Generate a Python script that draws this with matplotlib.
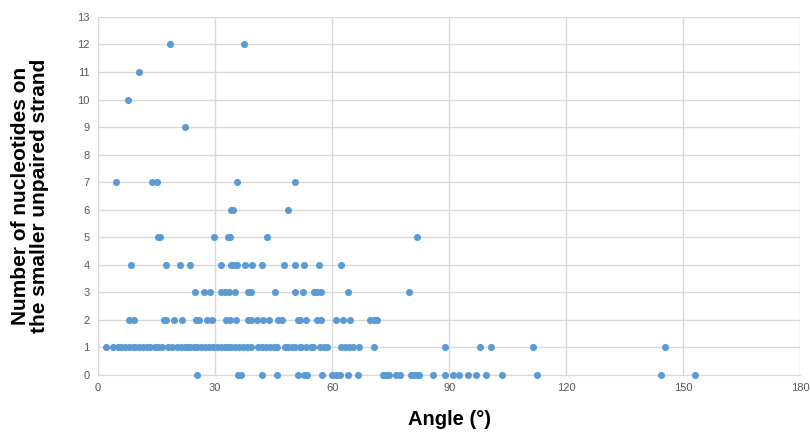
import matplotlib
matplotlib.use("Agg")
import matplotlib.pyplot as plt

# angle values (degrees) grouped by number of nucleotides on the smaller unpaired strand
angles_n0 = [25.4, 35.9, 36.7, 42.0, 46.0, 51.2, 52.9, 53.5, 57.3, 60.0, 60.9, 61.9,
             64.0, 66.7, 73.0, 73.8, 74.7, 76.4, 77.4, 80.2, 81.0, 81.8, 82.4, 85.8,
             88.9, 90.9, 92.6, 94.9, 96.9, 99.4, 103.5, 112.6, 144.4, 152.9]
angles_n1 = [2.1, 3.9, 5.0, 6.0, 7.0, 8.0, 9.0, 9.5, 10.6, 11.5, 12.5, 13.3, 14.5,
             15.3, 16.3, 18.0, 19.0, 20.3, 21.3, 22.3, 23.1, 23.5, 24.5, 25.5, 26.5,
             27.5, 28.5, 29.5, 30.5, 31.5, 32.5, 33.2, 34.2, 35.2, 36.2, 37.2, 38.3,
             39.3, 40.9, 42.0, 43.0, 44.0, 45.0, 46.0, 47.8, 48.6, 49.6, 50.6, 51.7,
             52.1, 53.4, 54.6, 55.0, 56.8, 57.8, 58.8, 62.3, 63.3, 64.3, 65.3, 67.0,
             70.7, 88.9, 98.0, 100.8, 111.6, 145.2]
angles_n2 = [7.9, 9.3, 16.9, 17.5, 19.4, 21.4, 25.0, 25.8, 28.0, 29.2, 32.8, 33.9,
             35.3, 38.4, 39.1, 40.8, 42.3, 43.7, 46.2, 47.2, 51.3, 51.9, 53.4, 56.1,
             57.2, 61.0, 62.7, 64.7, 69.6, 70.7, 71.4]
angles_n3 = [24.9, 27.2, 28.6, 31.5, 32.5, 33.5, 35.2, 38.4, 39.1, 45.4, 50.5, 52.6,
             55.3, 56.2, 57.2, 64.1, 79.8]
angles_n4 = [8.5, 17.3, 21.0, 23.6, 31.4, 34.2, 34.8, 35.5, 37.7, 39.4, 42.0, 47.6,
             50.5, 52.8, 56.7, 62.4]
angles_n5 = [15.3, 15.9, 29.8, 33.2, 33.8, 43.2, 81.8]
angles_n6 = [34.2, 34.6, 48.8]
angles_n7 = [4.7, 13.8, 15.0, 35.7, 50.5]
angles_n9 = [22.4]
angles_n10 = [7.8]
angles_n11 = [10.6]
angles_n12 = [18.5, 37.3]

groups = {0: angles_n0, 1: angles_n1, 2: angles_n2, 3: angles_n3, 4: angles_n4,
          5: angles_n5, 6: angles_n6, 7: angles_n7, 9: angles_n9, 10: angles_n10,
          11: angles_n11, 12: angles_n12}

x_ticks = [0, 30, 60, 90, 120, 150, 180]
y_ticks = list(range(0, 14))

xs, ys = [], []
for n, vals in groups.items():
    xs += vals
    ys += [n] * len(vals)

fig = plt.figure(figsize=(8.1, 4.33), dpi=100)
ax = fig.add_axes([0.121, 0.134, 0.867, 0.827])

ax.scatter(xs, ys, s=26, color="#5B9BD5", zorder=3, clip_on=False, linewidths=0)

ax.set_xlim(0, 180)
ax.set_ylim(0, 13)
ax.set_xticks(x_ticks)
ax.set_yticks(y_ticks)
ax.grid(True, color="#D9D9D9", linewidth=1, zorder=0)
ax.set_axisbelow(True)

for side in ["top", "right"]:
    ax.spines[side].set_visible(False)
for side in ["left", "bottom"]:
    ax.spines[side].set_color("#D9D9D9")
ax.tick_params(length=0, colors="#595959", labelsize=8, pad=6)
for lab in ax.get_xticklabels() + ax.get_yticklabels():
    lab.set_family(["Liberation Sans Narrow", "Liberation Sans", "DejaVu Sans"])

ax.set_xlabel("Angle (°)", fontsize=14.5, fontweight="bold",
              family=["Liberation Sans", "DejaVu Sans"], labelpad=12)
ax.set_ylabel("Number of nucleotides on\nthe smaller unpaired strand", fontsize=15,
              fontweight="bold", family=["Liberation Sans", "DejaVu Sans"], labelpad=20,
              linespacing=1.05)

fig.savefig("out.png", dpi=100)
